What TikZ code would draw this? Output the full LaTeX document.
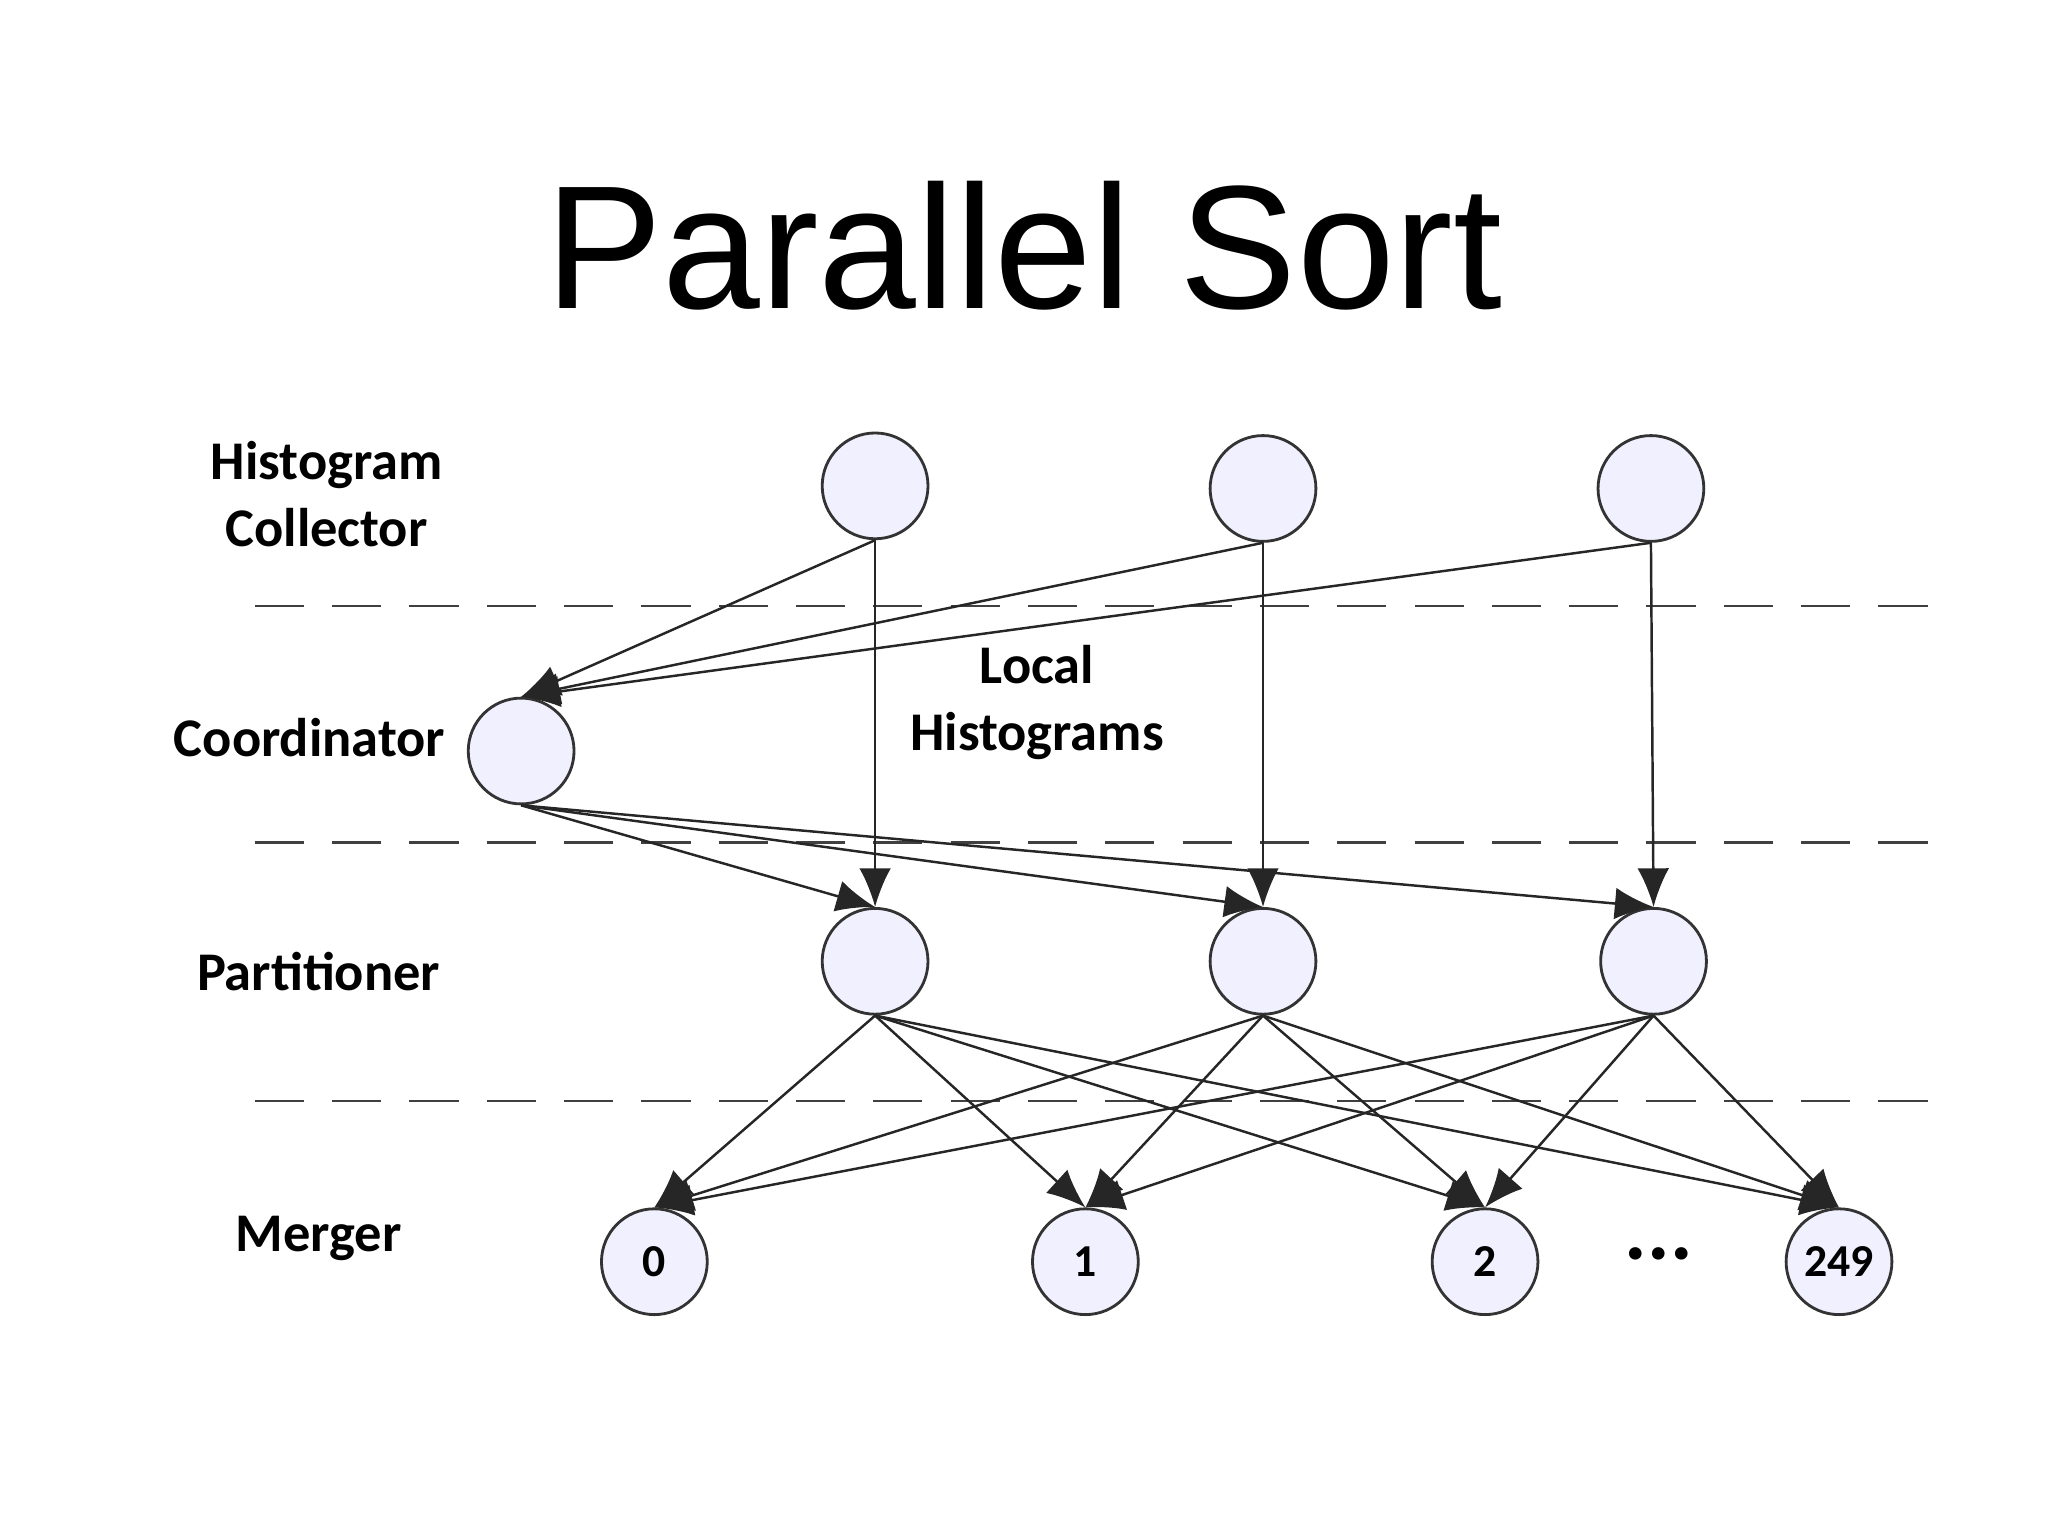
\documentclass[tikz,border=0pt]{standalone}
\usepackage{fontspec}
\setmainfont{Carlito}
\newfontfamily\titlefont{Liberation Sans}
\usetikzlibrary{arrows.meta}
\begin{document}
\begin{tikzpicture}[x=0.01306cm,y=-0.01306cm,
 nd/.style={circle,draw=black!80,line width=0.8pt,fill=blue!6!white,minimum size=81*0.01306cm,inner sep=0pt,font=\bfseries\fontsize{13}{13}\selectfont},
 lab/.style={font=\bfseries\fontsize{15.5}{19}\selectfont,align=center},
 ar/.style={-{Latex[length=11pt,width=9pt]},line width=0.7pt,black!85},
 dl/.style={dash pattern=on 14pt off 8pt,line width=0.7pt,black!75}]
\useasboundingbox (0,0) rectangle (1568,1176);
\node[font=\titlefont\fontsize{50}{50}\selectfont] (t) at (784,188) {Parallel Sort};
\foreach \y/\n in {464/d1,645/d2,843/d3}{
 \coordinate (\n a) at (195,\y); \coordinate (\n b) at (1480,\y);
 \draw[dl] (\n a) -- (\n b);}
\node[nd] (h1) at (670,372) {}; \node[nd] (h2) at (967,374) {}; \node[nd] (h3) at (1264,374) {};
\node[nd] (c) at (399,575) {};
\node[nd] (p1) at (670,736) {}; \node[nd] (p2) at (967,736) {}; \node[nd] (p3) at (1266,736) {};
\node[nd] (m1) at (501,966) {0}; \node[nd] (m2) at (831,966) {1};
\node[nd] (m3) at (1137,966) {2}; \node[nd] (m4) at (1408,966) {249};
\node[font=\bfseries\fontsize{24}{24}\selectfont] (dots) at (1270,960) {...};
\node[lab] (lh) at (250,378) {Histogram\\Collector};
\node[lab] (lc) at (237,565) {Coordinator};
\node[lab] (ll) at (794,538) {Local\\Histograms};
\node[lab] (lp) at (244,744) {Partitioner};
\node[lab] (lm) at (244,948) {Merger};
\foreach \h in {h1,h2,h3} \draw[ar] (\h.south) -- (c.north);
\draw[ar] (h1.south) -- (p1.north);
\draw[ar] (h2.south) -- (p2.north);
\draw[ar] (h3.south) -- (p3.north);
\foreach \p in {p1,p2,p3} \draw[ar] (c.south) -- (\p.north);
\foreach \p in {p1,p2,p3} \foreach \m in {m1,m2,m3,m4} \draw[ar] (\p.south) -- (\m.north);
\end{tikzpicture}
\end{document}
